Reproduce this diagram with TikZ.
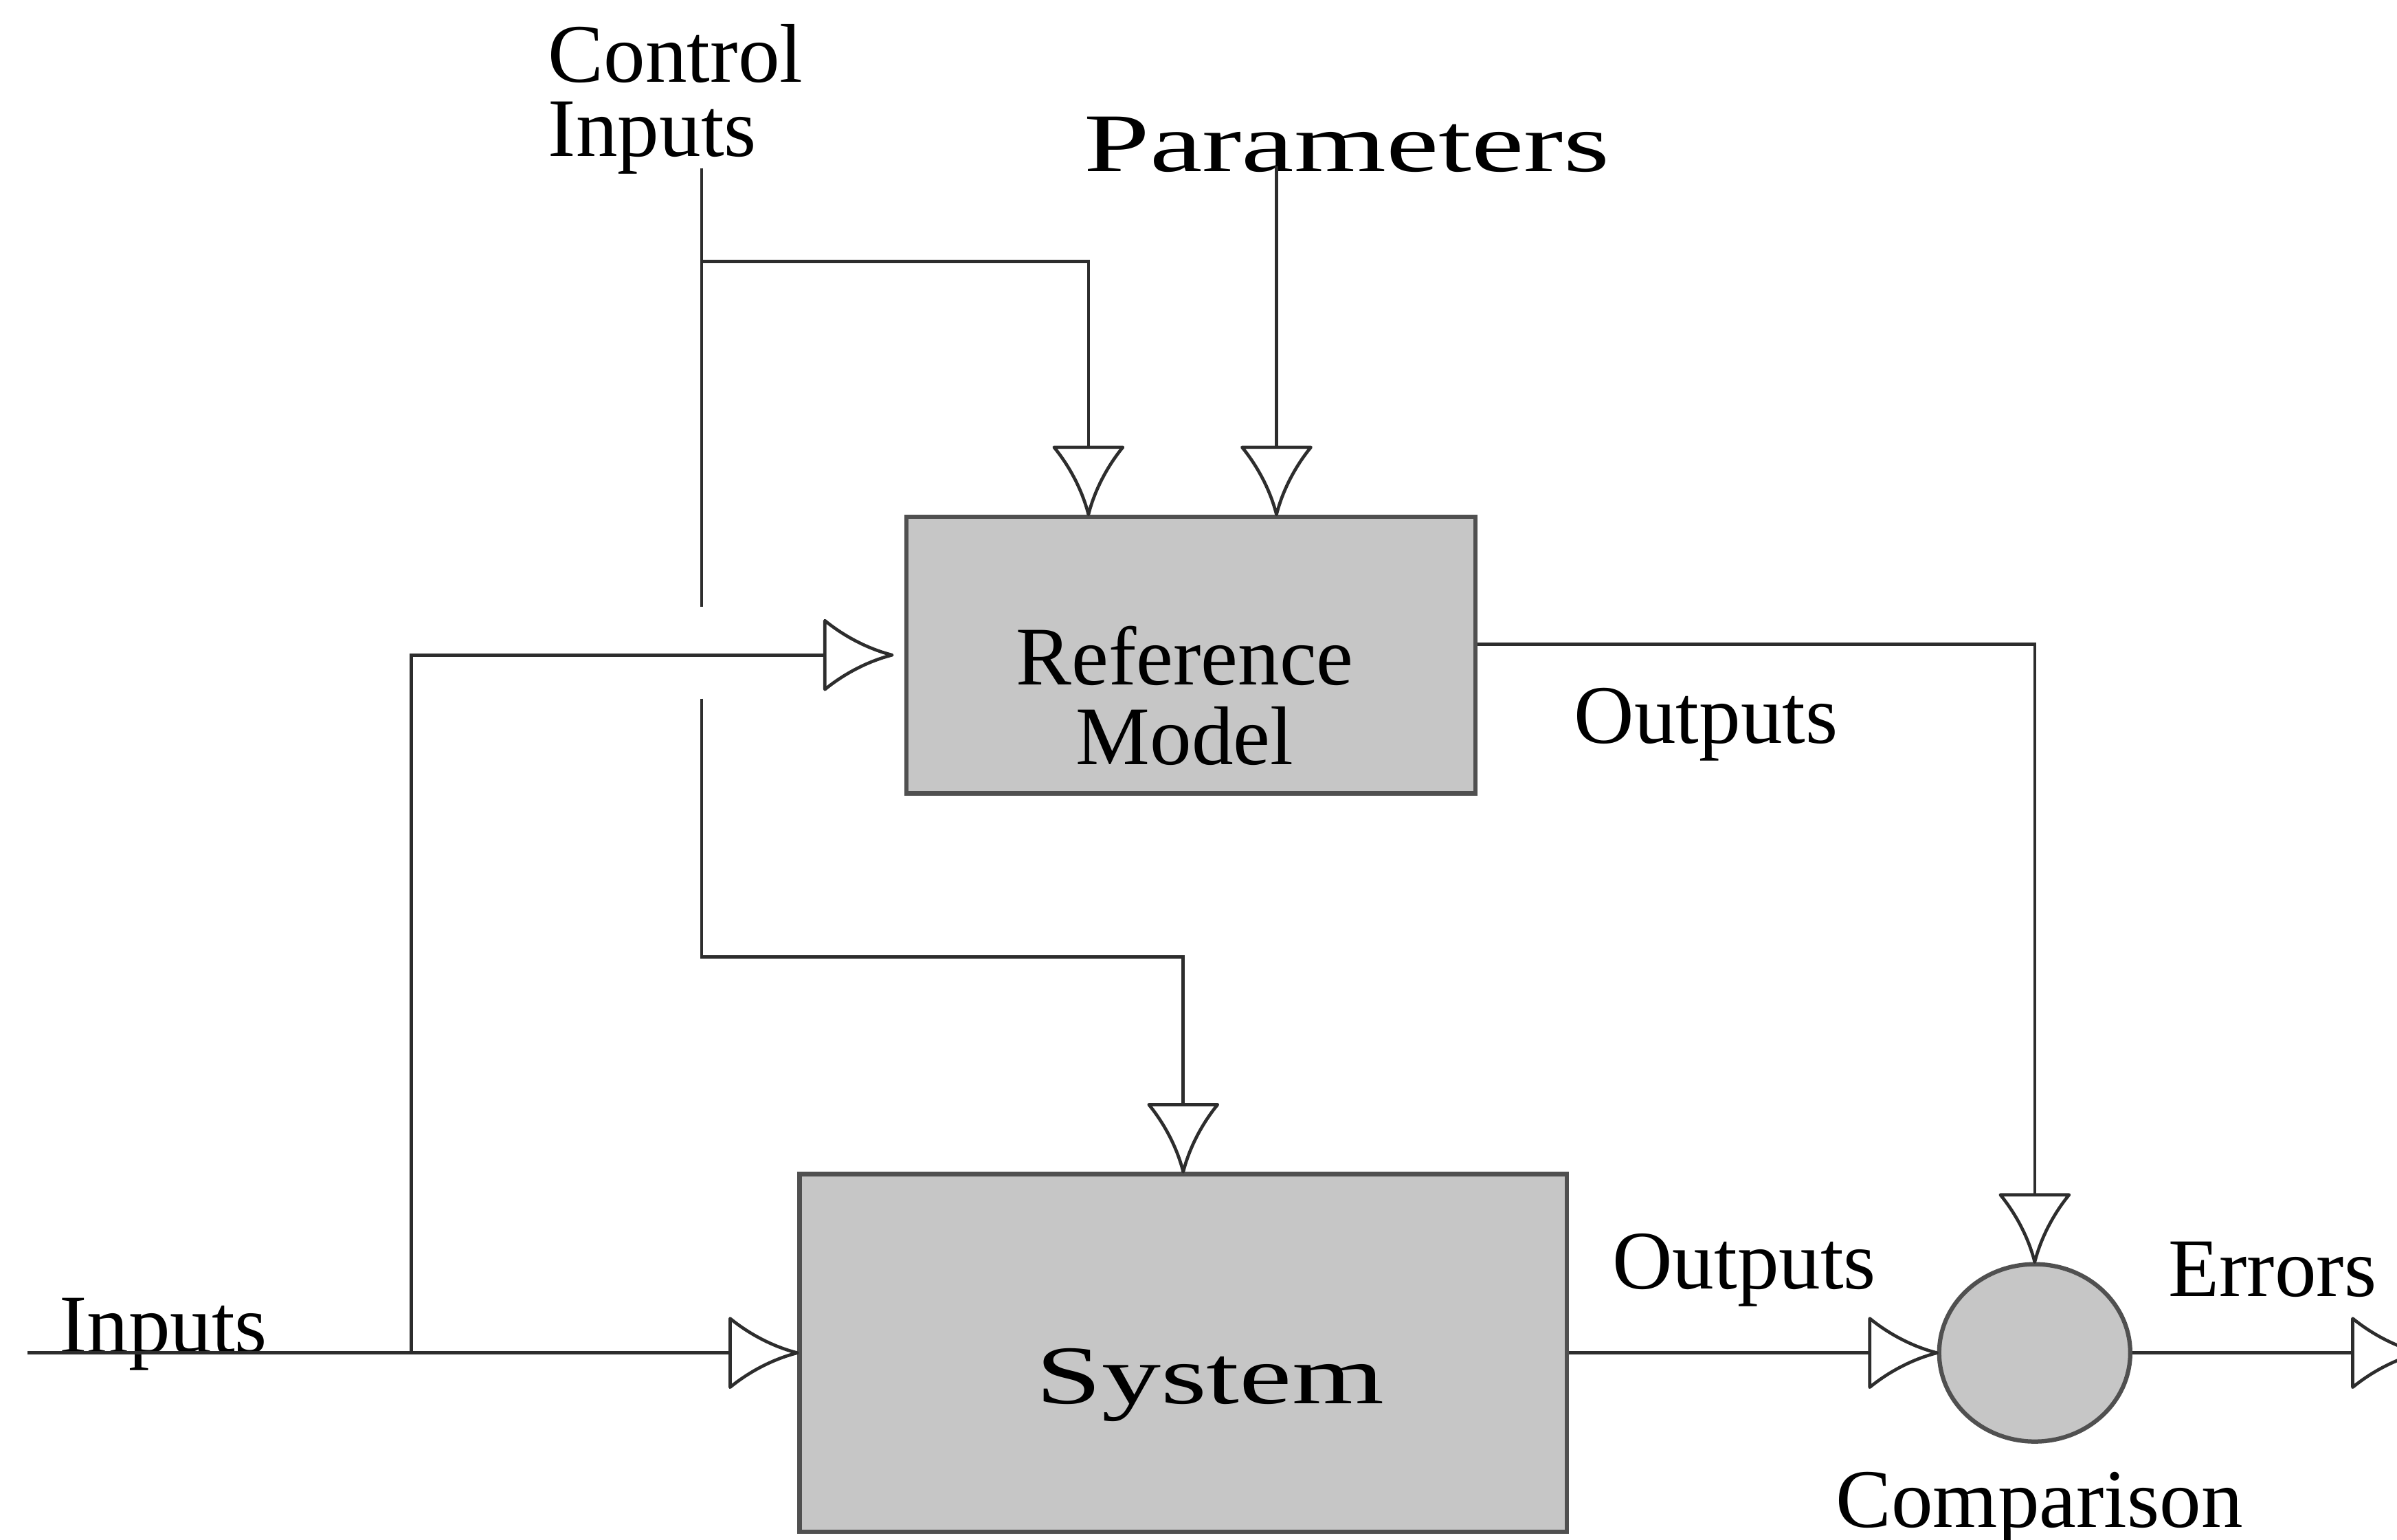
\documentclass[tikz,border=0pt]{standalone}
\usepackage{fontspec}
\setmainfont{Liberation Serif}
\usepackage{xcolor}
\usepackage{graphicx}
\usepackage{tikz}
\usetikzlibrary{shapes.geometric, arrows.meta}
\definecolor{boxgray}{RGB}{198,198,198}
\definecolor{edgegray}{RGB}{80,80,80}
\definecolor{linegray}{RGB}{45,45,45}
% hollow tip with curved sides
\pgfdeclarearrow{
  name = Fan,
  parameters = {\the\pgfarrowlength,\the\pgfarrowwidth},
  setup code = {
    \pgfarrowssettipend{0pt}
    \pgfarrowssetlineend{-\pgfarrowlength}
    \pgfarrowssetbackend{-\pgfarrowlength}
    \pgfarrowshullpoint{0pt}{0pt}
    \pgfarrowsupperhullpoint{-\pgfarrowlength}{.5\pgfarrowwidth}
    \pgfarrowssavethe\pgfarrowlength
    \pgfarrowssavethe\pgfarrowwidth
  },
  drawing code = {
    \pgfsetdash{}{0pt}\pgfsetroundjoin
    \pgfpathmoveto{\pgfpointorigin}
    \pgfpathcurveto{\pgfpoint{-.4\pgfarrowlength}{.1\pgfarrowwidth}}{\pgfpoint{-.75\pgfarrowlength}{.3\pgfarrowwidth}}{\pgfpoint{-\pgfarrowlength}{.5\pgfarrowwidth}}
    \pgfpathlineto{\pgfpoint{-\pgfarrowlength}{-.5\pgfarrowwidth}}
    \pgfpathcurveto{\pgfpoint{-.75\pgfarrowlength}{-.3\pgfarrowwidth}}{\pgfpoint{-.4\pgfarrowlength}{-.1\pgfarrowwidth}}{\pgfpointorigin}
    \pgfpathclose
    \pgfusepathqstroke
  },
  defaults = {length = 4.4mm, width = 4.5mm}
}
\newcommand{\widetext}[1]{\scalebox{1.42}[1]{#1}}
\tikzstyle{block} = [rectangle, draw=edgegray, line width=0.8pt, fill=boxgray]
\tikzstyle{compare} = [ellipse, draw=edgegray, line width=0.8pt, fill=boxgray, minimum width=1.25cm, minimum height=1.16cm, inner sep=0pt]
\tikzstyle{note} = [inner sep=0pt, text=black, font=\fontsize{15.5}{13.9}\selectfont]
\tikzstyle{wire} = [line width=0.6pt, draw=linegray]
\tikzstyle{arrow} = [wire, -{Fan[length=4.4mm, width=4.5mm]}]

\begin{document}
\begin{tikzpicture}
  \useasboundingbox (0,0) rectangle (15.68,10.07);

  % Nodes
  \node (ref) [block, minimum width=3.72cm, minimum height=1.81cm] at (7.79,5.785) {};
  \node (sys) [block, minimum width=5.02cm, minimum height=2.34cm] at (7.74,1.22) {};
  \node (cmp) [compare] at (13.31,1.22) {};

  % Labels
  \node (reftxt) [note, align=center, anchor=north, font=\fontsize{15.5}{14.8}\selectfont] at (7.75,5.98) {Reference\\Model};
  \node (systxt) [note, anchor=base] at (7.915,0.89) {\widetext{System}};
  \node (ctrl) [note, align=left, anchor=north west] at (3.58,9.92) {Control\\Inputs};
  \node (params) [note, anchor=base] at (8.81,8.95) {\widetext{Parameters}};
  \node (inlab) [note, anchor=base west] at (0.38,1.22) {Inputs};
  \node (reflab) [note, anchor=base] at (11.16,5.21) {Outputs};
  \node (syslab) [note, anchor=base] at (11.41,1.64) {Outputs};
  \node (errlab) [note, anchor=base] at (14.865,1.59) {Errors};
  \node (cmplab) [note, anchor=base] at (13.34,0.08) {Comparison};

  % Points on the wires
  \coordinate (in0) at (0.18,1.22);
  \coordinate (jn) at (2.69,1.22);
  \coordinate (c0) at (4.59,8.97);
  \coordinate (c1) at (4.59,8.36);
  \coordinate (c2) at (4.59,6.10);
  \coordinate (c3) at (4.59,5.50);
  \coordinate (c4) at (4.59,3.81);
  \coordinate (p0) at (8.35,8.98);
  \coordinate (err) at (15.83,1.22);

  % Arrows
  \draw [arrow] (in0) -- (sys.west);
  \draw [arrow, shorten >=0.8mm] (jn) |- (ref.west);
  \draw [wire] (c0) -- (c2);
  \draw [arrow] (c1) -| ([xshift=-0.67cm]ref.north);
  \draw [arrow] (p0) -- (p0 |- ref.north);
  \draw [arrow] (c3) -- (c4) -| (sys.north);
  \draw [arrow] ([yshift=0.07cm]ref.east) -| (cmp.north);
  \draw [arrow] (sys.east) -- (cmp.west);
  \draw [arrow] (cmp.east) -- (err);

\end{tikzpicture}
\end{document}
